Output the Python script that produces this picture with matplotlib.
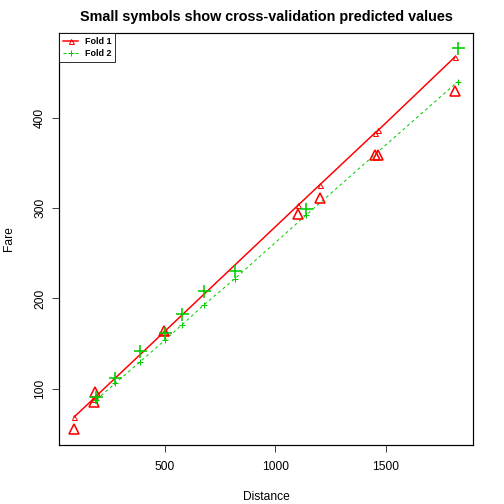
import matplotlib
matplotlib.use("Agg")
import matplotlib.pyplot as plt
from matplotlib.lines import Line2D

plt.rcParams['font.family'] = ['Liberation Sans', 'DejaVu Sans']

# Fold 1 (red triangles)
fold1_distance = [90, 177, 185, 497, 1103, 1203, 1451, 1466, 1813]
fold1_fare = [55, 85, 96, 164, 293, 311, 359, 359, 430]
fold1_cvpred = [69, 89, 91, 163, 303, 326, 383, 386, 467]

# Fold 2 (green crosses)
fold2_distance = [190, 275, 388, 501, 578, 678, 818, 1139, 1827]
fold2_fare = [91, 112, 142, 162, 183, 208, 230, 299, 477]
fold2_cvpred = [88, 106, 130, 154, 171, 193, 222, 292, 440]

x_ticks = [500, 1000, 1500]
y_ticks = [100, 200, 300, 400]

red = "#FF0000"
green = "#00CD00"

fig = plt.figure(figsize=(7, 7), dpi=72)
ax = fig.add_axes([59/504, 1-444.7/504, (473-59)/504, (444.7-33)/504])

# Fold 1
ax.plot(fold1_distance, fold1_cvpred, color=red, lw=1.5, ls='-', zorder=2)
ax.plot(fold1_distance, fold1_cvpred, ls='none', marker='^', ms=5, mfc='none',
        mec=red, mew=1.0, zorder=3)
ax.plot(fold1_distance, fold1_fare, ls='none', marker='^', ms=10.5, mfc='none',
        mec=red, mew=1.6, zorder=3)

# Fold 2
ax.plot(fold2_distance, fold2_cvpred, color=green, lw=1.0, ls=(0, (3, 3)), zorder=2)
ax.plot(fold2_distance, fold2_cvpred, ls='none', marker='+', ms=6, mec=green,
        mew=1.0, zorder=3)
ax.plot(fold2_distance, fold2_fare, ls='none', marker='+', ms=13, mec=green,
        mew=1.6, zorder=3)

allx = fold1_distance + fold2_distance
ally = fold1_fare + fold2_fare + fold1_cvpred + fold2_cvpred
xr = max(allx) - min(allx)
yr = max(ally) - min(ally)
ax.set_xlim(min(allx) - 0.04*xr, max(allx) + 0.04*xr)
ax.set_ylim(min(ally) - 0.04*yr, max(ally) + 0.04*yr)

ax.set_xticks(x_ticks)
ax.set_xticklabels([str(v) for v in x_ticks])
ax.set_yticks(y_ticks)
ax.set_yticklabels([str(v) for v in y_ticks], rotation=90, va='center')
ax.tick_params(direction='out', length=7, width=1, labelsize=12, color='#444444')
ax.tick_params(axis='x', pad=9)
ax.tick_params(axis='y', pad=6)
for s in ax.spines.values():
    s.set_linewidth(1.2)

ax.set_xlabel("Distance", fontsize=12, labelpad=18)
ax.set_ylabel("Fare", fontsize=12, labelpad=19)
ax.set_title("Small symbols show cross-validation predicted values",
             fontsize=14.4, fontweight='bold', pad=12)

handles = [Line2D([0], [0], color=red, lw=1.5, marker='^', ms=5, mfc='none', mec=red),
           Line2D([0], [0], color=green, lw=1.0, ls=(0, (3, 3)), marker='+', ms=6, mec=green)]
leg = ax.legend(handles, ["Fold 1", "Fold 2"], loc='upper left', bbox_to_anchor=(0, 1),
                borderaxespad=0, frameon=True, fancybox=False, handlelength=1.7,
                handletextpad=0.7, borderpad=0.45, labelspacing=0.3,
                prop={'weight': 'bold', 'size': 9})
leg.get_frame().set_edgecolor('black')
leg.get_frame().set_linewidth(1.0)

fig.savefig("out.png", dpi=72)
